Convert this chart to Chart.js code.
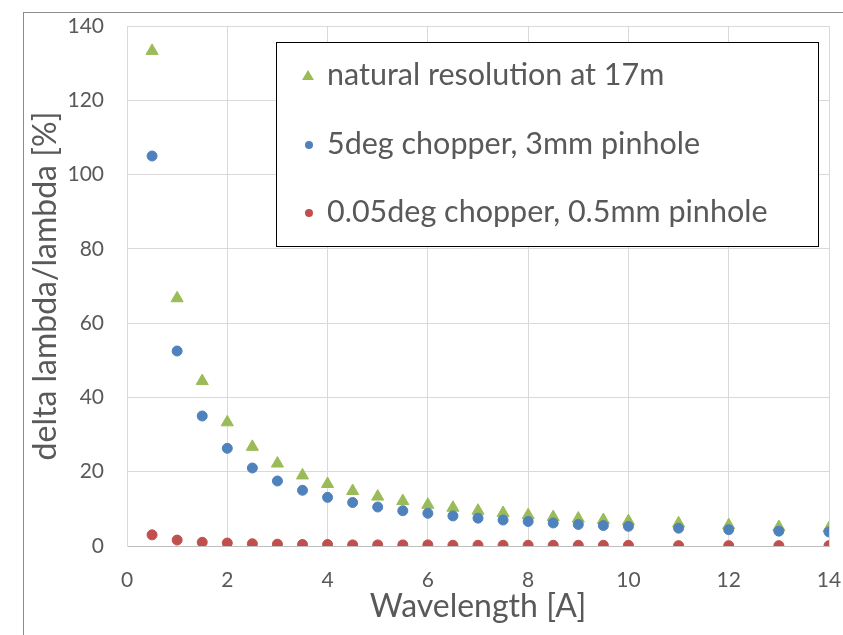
<!DOCTYPE html>
<html>
<head>
<meta charset="utf-8">
<script src="https://cdn.jsdelivr.net/npm/chart.js@4.4.1/dist/chart.umd.min.js"></script>
<style>
  body { margin: 0; background: #fff; }
  #frame { position: absolute; left: 23px; top: 12px; width: 840px; height: 640px; border: 1px solid #8c8c8c; }
  #wrap { position: absolute; left: 0; top: 0; width: 843px; height: 635px; }
</style>
</head>
<body>
<div id="frame"></div>
<div id="wrap"><canvas id="chart" width="843" height="635"></canvas></div>
<script>
// Данные
const wavelength = [0.5, 1, 1.5, 2, 2.5, 3, 3.5, 4, 4.5, 5, 5.5, 6, 6.5, 7, 7.5, 8, 8.5, 9, 9.5, 10, 11, 12, 13, 14];
const naturalRes = [133.3, 66.7, 44.4, 33.3, 26.7, 22.2, 19.0, 16.7, 14.8, 13.3, 12.1, 11.1, 10.3, 9.5, 8.9, 8.3, 7.8, 7.4, 7.0, 6.7, 6.1, 5.6, 5.1, 4.8];
const chopper5deg = [105, 52.5, 35.0, 26.3, 21.0, 17.5, 15.0, 13.1, 11.7, 10.5, 9.5, 8.8, 8.1, 7.5, 7.0, 6.6, 6.2, 5.8, 5.5, 5.3, 4.8, 4.4, 4.0, 3.8];
const chopper005deg = [3.0, 1.6, 1.0, 0.8, 0.6, 0.5, 0.4, 0.4, 0.3, 0.3, 0.3, 0.3, 0.2, 0.2, 0.2, 0.2, 0.2, 0.2, 0.2, 0.2, 0.1, 0.1, 0.1, 0.1];
const seriesNames = ['natural resolution at 17m', '5deg chopper, 3mm pinhole', '0.05deg chopper, 0.5mm pinhole'];
const xTicks = [0, 2, 4, 6, 8, 10, 12, 14];
const yTicks = [0, 20, 40, 60, 80, 100, 120, 140];

const FONT = 'Lato, "Open Sans", sans-serif';
const TEXT_COLOR = '#595959';

function toPoints(ys) {
    return wavelength.map((x, i) => ({ x: x, y: ys[i] }));
}

// Легенда в рамке внутри области графика
const boxLegend = {
    id: 'boxLegend',
    afterDraw(chart) {
        const ctx = chart.ctx;
        const left = 276, top = 42, w = 542, h = 204;
        ctx.save();
        ctx.fillStyle = '#fff';
        ctx.fillRect(left, top, w, h);
        ctx.strokeStyle = '#000';
        ctx.lineWidth = 1;
        ctx.strokeRect(left + 0.5, top + 0.5, w, h);
        ctx.font = '30.5px ' + FONT;
        ctx.textBaseline = 'middle';
        const rows = [75, 144, 212];
        chart.data.datasets.forEach((ds, i) => {
            const y = rows[i];
            ctx.fillStyle = ds.backgroundColor;
            if (ds.pointStyle === 'triangle') {
                ctx.beginPath();
                ctx.moveTo(308, y - 5);
                ctx.lineTo(314, y + 5);
                ctx.lineTo(302, y + 5);
                ctx.closePath();
                ctx.fill();
            } else {
                ctx.beginPath();
                ctx.arc(309, y + 1, 4, 0, Math.PI * 2);
                ctx.fill();
            }
            ctx.fillStyle = TEXT_COLOR;
            ctx.fillText(ds.label, 327, y);
        });
        ctx.restore();
    }
};

new Chart(document.getElementById('chart'), {
    type: 'scatter',
    data: {
        datasets: [
            { label: seriesNames[0], data: toPoints(naturalRes), backgroundColor: '#9BBB59', borderColor: '#9BBB59', pointStyle: 'triangle', pointRadius: 7, order: 3 },
            { label: seriesNames[1], data: toPoints(chopper5deg), backgroundColor: '#4F81BD', borderColor: '#4F81BD', pointStyle: 'circle', pointRadius: 5, order: 2 },
            { label: seriesNames[2], data: toPoints(chopper005deg), backgroundColor: '#C0504D', borderColor: '#C0504D', pointStyle: 'circle', pointRadius: 5, order: 1 }
        ]
    },
    options: {
        responsive: false,
        animation: false,
        layout: { padding: { left: 0, top: 26, right: 14, bottom: 0 } },
        plugins: {
            legend: { display: false },
            tooltip: { enabled: false }
        },
        scales: {
            x: {
                type: 'linear',
                min: 0, max: 14,
                afterBuildTicks: (axis) => { axis.ticks = xTicks.map(v => ({ value: v })); },
                afterFit: (axis) => { axis.height = 89; axis.paddingLeft = 0; axis.paddingRight = 0; },
                grid: { color: '#d9d9d9', lineWidth: 1, drawTicks: false },
                border: { color: '#bfbfbf' },
                ticks: { color: TEXT_COLOR, font: { family: FONT, size: 21 }, padding: 22 },
                title: { display: true, text: 'Wavelength [A]', color: TEXT_COLOR, font: { family: FONT, size: 32 }, padding: { top: 0, bottom: 9 } }
            },
            y: {
                min: 0, max: 140,
                afterBuildTicks: (axis) => { axis.ticks = yTicks.map(v => ({ value: v })); },
                afterFit: (axis) => { axis.width = 127; axis.paddingTop = 0; axis.paddingBottom = 0; },
                grid: { color: '#d9d9d9', lineWidth: 1, drawTicks: false },
                border: { color: '#d9d9d9' },
                ticks: { color: TEXT_COLOR, font: { family: FONT, size: 21 }, padding: 23 },
                title: { display: true, text: 'delta lambda/lambda [%]', color: TEXT_COLOR, font: { family: FONT, size: 32 }, padding: { top: 26, bottom: 0 } }
            }
        }
    },
    plugins: [boxLegend]
});
</script>
</body>
</html>
